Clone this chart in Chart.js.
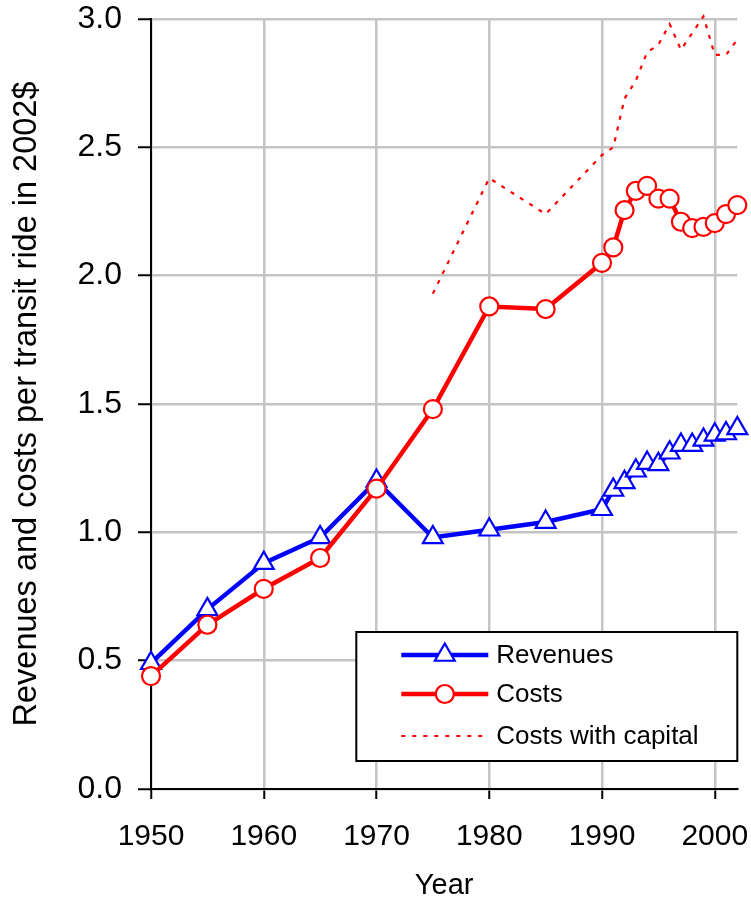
<!DOCTYPE html>
<html>
<head>
<meta charset="utf-8">
<script src="https://cdn.jsdelivr.net/npm/chart.js@4.4.1/dist/chart.umd.min.js"></script>
<style>
  html, body { margin: 0; padding: 0; background: #fff; }
  #wrap { width: 751px; height: 903px; }
</style>
</head>
<body>
<div id="wrap"><canvas id="chart"></canvas></div>
<script>
const YEARS = [1950, 1955, 1960, 1965, 1970, 1975, 1980, 1985, 1990,
  1991, 1992, 1993, 1994, 1995, 1996, 1997, 1998, 1999, 2000, 2001, 2002];
const REVENUES = [0.49, 0.70, 0.88, 0.98, 1.20, 0.98, 1.01, 1.04, 1.09,
  1.165, 1.195, 1.24, 1.27, 1.265, 1.31, 1.34, 1.34, 1.36, 1.38, 1.385, 1.405];
const COSTS = [0.44, 0.64, 0.78, 0.90, 1.17, 1.48, 1.88, 1.87, 2.05,
  2.11, 2.255, 2.33, 2.35, 2.30, 2.30, 2.21, 2.185, 2.19, 2.205, 2.24, 2.275];
const CAPITAL_YEARS = [1975, 1980, 1985, 1990, 1991, 1992, 1993, 1994, 1995,
  1996, 1997, 1998, 1999, 2000, 2001, 2002];
const COSTS_CAPITAL = [1.93, 2.38, 2.24, 2.47, 2.50, 2.69, 2.76, 2.87, 2.90,
  2.98, 2.88, 2.945, 3.01, 2.86, 2.86, 2.92];
const LABELS = ['Revenues', 'Costs', 'Costs with capital'];

const FONT = 'Arial, "Liberation Sans", sans-serif';

function toPoints(xs, ys) {
  return xs.map((x, i) => ({ x: x, y: ys[i] }));
}

// legend box drawn inside the plot, bottom right
const boxLegend = {
  id: 'boxLegend',
  afterDraw(chart) {
    const ctx = chart.ctx;
    const area = chart.chartArea;
    const w = 381, h = 129;
    const left = area.right - w, top = area.bottom - 28 - h;
    ctx.save();
    ctx.fillStyle = '#fff';
    ctx.fillRect(left, top, w, h);
    ctx.strokeStyle = '#000';
    ctx.lineWidth = 2;
    ctx.strokeRect(left, top, w, h);
    ctx.font = '26px ' + FONT;
    ctx.textBaseline = 'middle';
    const rows = [23, 62, 104];
    chart.data.datasets.forEach((ds, i) => {
      const y = top + rows[i];
      const x0 = left + 45, x1 = left + 132;
      ctx.strokeStyle = ds.borderColor;
      ctx.lineWidth = ds.borderWidth;
      ctx.setLineDash(ds.borderDash || []);
      ctx.beginPath();
      ctx.moveTo(x0, y);
      ctx.lineTo(x1, y);
      ctx.stroke();
      ctx.setLineDash([]);
      if (ds.pointRadius > 0) {
        ctx.fillStyle = ds.pointBackgroundColor;
        ctx.strokeStyle = ds.pointBorderColor;
        ctx.lineWidth = ds.pointBorderWidth;
        Chart.helpers.drawPoint(ctx, {
          pointStyle: ds.pointStyle, radius: ds.pointRadius, borderWidth: ds.pointBorderWidth
        }, (x0 + x1) / 2, y);
      }
      ctx.fillStyle = '#000';
      ctx.fillText(ds.label, left + 140, y + 1);
    });
    ctx.restore();
  }
};

new Chart(document.getElementById('chart'), {
  type: 'line',
  data: {
    datasets: [{
      label: LABELS[0],
      data: toPoints(YEARS, REVENUES),
      borderColor: '#0000ff',
      borderWidth: 4.5,
      pointStyle: 'triangle',
      pointRadius: 11.5,
      pointBorderWidth: 2.2,
      pointBackgroundColor: '#fff',
      pointBorderColor: '#0000ff',
      order: 1,
      clip: false
    }, {
      label: LABELS[1],
      data: toPoints(YEARS, COSTS),
      borderColor: '#ff0000',
      borderWidth: 4.5,
      pointStyle: 'circle',
      pointRadius: 9,
      pointBorderWidth: 2.2,
      pointBackgroundColor: '#fff',
      pointBorderColor: '#ff0000',
      order: 0,
      clip: false
    }, {
      label: LABELS[2],
      data: toPoints(CAPITAL_YEARS, COSTS_CAPITAL),
      borderColor: '#ff0000',
      borderWidth: 2.2,
      borderDash: [4, 7],
      pointRadius: 0,
      order: 2,
      clip: false
    }]
  },
  options: {
    responsive: true,
    maintainAspectRatio: false,
    animation: false,
    layout: { padding: { top: 19, right: 13, bottom: 0, left: 0 } },
    plugins: {
      legend: { display: false },
      tooltip: { enabled: false }
    },
    scales: {
      x: {
        type: 'linear',
        min: 1950,
        max: 2002,
        border: { color: '#000', width: 2 },
        grid: { color: '#c4c4c4', lineWidth: 2.5, tickColor: '#000', tickLength: 10, tickWidth: 2 },
        ticks: {
          stepSize: 10,
          includeBounds: false,
          padding: 20,
          color: '#000',
          font: { family: FONT, size: 30 },
          callback: v => String(v)
        },
        title: {
          display: true,
          text: 'Year',
          color: '#000',
          font: { family: FONT, size: 29 },
          padding: { top: 0, bottom: 0 }
        },
        afterFit: s => {
          s.height = 114;
          s.paddingLeft = 0;
          s.paddingRight = 0;
        }
      },
      y: {
        min: 0,
        max: 3,
        border: { color: '#000', width: 2 },
        grid: { color: '#c4c4c4', lineWidth: 2.5, tickColor: '#000', tickLength: 13, tickWidth: 2 },
        ticks: {
          stepSize: 0.5,
          padding: 16,
          color: '#000',
          font: { family: FONT, size: 32 },
          callback: v => v.toFixed(1)
        },
        title: {
          display: true,
          text: 'Revenues and costs per transit ride in 2002$',
          color: '#000',
          font: { family: FONT, size: 32.5 },
          padding: { top: 8, bottom: 0 }
        },
        afterFit: s => {
          s.width = 151;
          s.paddingTop = 0;
          s.paddingBottom = 0;
        }
      }
    }
  },
  plugins: [boxLegend]
});
</script>
</body>
</html>
